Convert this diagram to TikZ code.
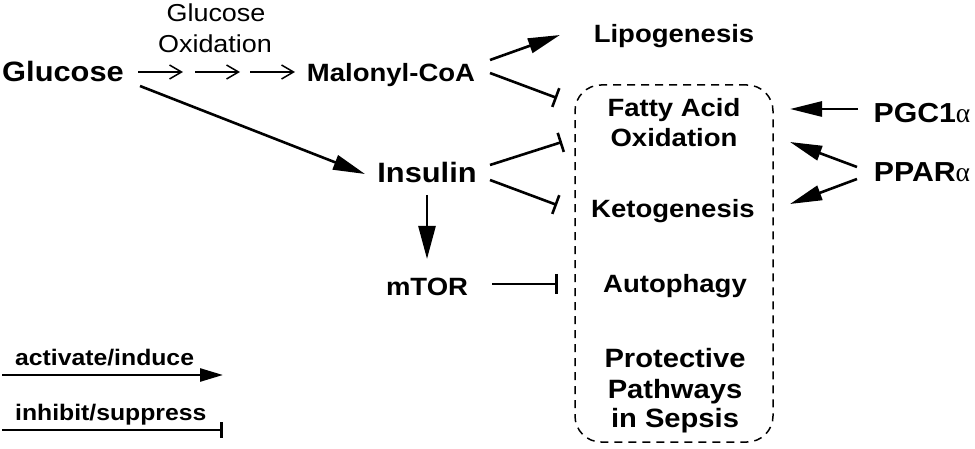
\documentclass[tikz,border=0pt]{standalone}
\usepackage{fontspec}
\setmainfont{Liberation Sans}[FakeStretch=1.1]
\newfontfamily\grk{Liberation Serif}
\usetikzlibrary{arrows.meta,calc}
\newcommand{\alf}{{\grk\mdseries α}}
\begin{document}
\begin{tikzpicture}[x=1pt,y=-1pt,
  lbl/.style={inner sep=0pt, anchor=base, font=\bfseries\fontsize{25}{30}\selectfont},
  big/.style={lbl, font=\bfseries\fontsize{28}{33}\selectfont},
  prot/.style={lbl, font=\bfseries\fontsize{26.5}{31}\selectfont},
  reg/.style={lbl, font=\fontsize{24.5}{29}\selectfont},
  leg/.style={inner sep=0pt, anchor=base west, font=\bfseries\fontsize{22.5}{27}\selectfont},
  act/.style={line width=2.6pt, -{Triangle[length=32pt,width=15pt]}},
  actsmall/.style={line width=2.6pt, -{Triangle[length=23pt,width=13pt]}},
  inh/.style={line width=2.6pt, -{Bar[width=20pt]}},
  thinarr/.style={line width=1.5pt, -{Straight Barb[length=12pt,width=14pt,line width=1.5pt]}},
  pbox/.style={draw, line width=1.5pt, dash pattern=on 8pt off 6pt, rounded corners=26pt}
]
\useasboundingbox (0,0) rectangle (975,449);

% dashed box
\node[pbox, minimum width=198pt, minimum height=357pt, inner sep=0pt] (box) at (674,263.5) {};

% text nodes
\node[big] (glu) at (63,82) {Glucose};
\node[reg] (ox1) at (216,22) {Glucose};
\node[reg] (ox2) at (215,53) {Oxidation};
\node[lbl] (mal) at (391,82) {Malonyl-CoA};
\node[lbl] (lipo) at (674,43) {Lipogenesis};
\node[big] (ins) at (427,183) {Insulin};
\node[lbl] (mtor) at (427,295) {mTOR};
\node[lbl] (fao1) at (674,117) {Fatty Acid};
\node[lbl] (fao2) at (674,147) {Oxidation};
\node[lbl] (keto) at (673,218) {Ketogenesis};
\node[lbl] (auto) at (675,293) {Autophagy};
\node[prot] (pr1) at (675,367) {Protective};
\node[prot] (pr2) at (675,398) {Pathways};
\node[prot] (pr3) at (675,427) {in Sepsis};
\node[big, font=\bfseries\fontsize{27.5}{32}\selectfont] (pgc) at (922,123) {PGC1\alf};
\node[big, font=\bfseries\fontsize{27.5}{32}\selectfont] (ppar) at (922,182) {PPAR\alf};
\node[leg] (lact) at (15,365) {activate/induce};
\node[leg] (linh) at (15,420) {inhibit/suppress};

% glucose oxidation steps
\coordinate (s1) at ($(glu.base)+(75,-10)$);
\coordinate (s2) at ($(glu.base)+(132,-10)$);
\coordinate (s3) at ($(glu.base)+(187,-10)$);
\draw[thinarr] (s1) -- ++(45,0);
\draw[thinarr] (s2) -- ++(45,0);
\draw[thinarr] (s3) -- ($(mal.base)+(-96,-10)$);

% connectors
\draw[act] ($(glu.base)+(77,4)$) -- ($(ins.base)+(-62,-9)$);
\draw[act] ($(mal.base)+(99,-22)$) -- ($(lipo.base)+(-114,-8)$);
\draw[inh] ($(mal.base)+(99,-9)$) -- ($(fao1.base)+(-117,-19)$);
\draw[inh] ($(ins.base)+(63,-18)$) -- ($(fao2.base)+(-112,-5)$);
\draw[inh] ($(ins.base)+(63,-3)$) -- ($(keto.base)+(-116,-13)$);
\draw[act, -{Triangle[length=33pt,width=17pt]}] ($(ins.base)+(0,12)$) -- ($(mtor.base)+(0,-36)$);
\draw[inh] ($(mtor.base)+(65,-11)$) -- ($(auto.base)+(-117,-9)$);
\draw[act] ($(pgc.base)+(-64,-14)$) -- ($(fao1.base)+(116,-8)$);
\draw[act] ($(ppar.base)+(-65,-15)$) -- ($(fao2.base)+(116,-5)$);
\draw[act] ($(ppar.base)+(-65,-3)$) -- ($(keto.base)+(117,-14)$);

% legend
\coordinate (la1) at ($(lact.base west)+(-13,10)$);
\coordinate (la2) at ($(lact.base west)+(208,10)$);
\coordinate (li1) at ($(linh.base west)+(-13,10)$);
\coordinate (li2) at ($(linh.base west)+(208,10)$);
\draw[actsmall] (la1) -- (la2);
\draw[inh, -{Bar[width=16pt]}] (li1) -- (li2);
\end{tikzpicture}
\end{document}
